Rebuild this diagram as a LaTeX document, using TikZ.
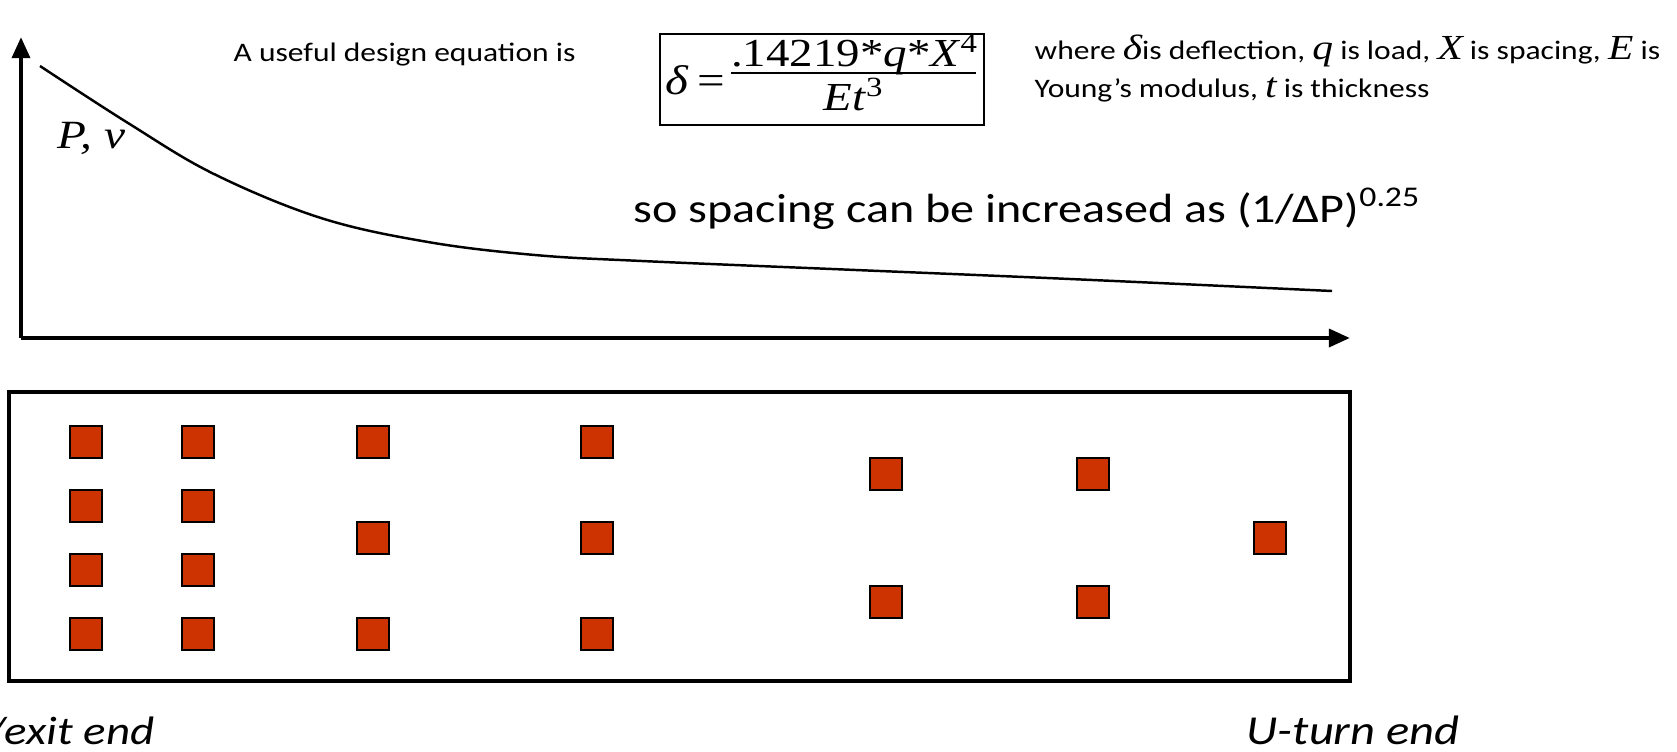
\documentclass[tikz,border=0pt]{standalone}
\usepackage{fontspec}
\setmainfont{Carlito}[FakeStretch=1.18]
\newfontfamily\tms{Liberation Serif}[FakeStretch=1.18]
\usetikzlibrary{arrows.meta}
\definecolor{tubered}{RGB}{204,51,0}
\newcommand{\tmi}[1]{{\tms\itshape\fontsize{10}{12}\selectfont #1}}

\begin{document}
\begin{tikzpicture}[x=0.01cm,y=-0.01cm,
    axis/.style={line width=1.3pt,-{Triangle[length=6pt,width=5pt]}},
    tube/.style={draw,line width=0.6pt,fill=tubered,minimum size=0.32cm,inner sep=0pt},
    note/.style={font=\fontsize{7.6}{9}\selectfont,inner sep=0pt},
    eqtext/.style={font=\tms\fontsize{11.3}{14}\selectfont,inner sep=0pt},
    endlabel/.style={font=\fontsize{11.7}{14}\selectfont\itshape,inner sep=0pt}
]
\useasboundingbox (0,0) rectangle (1677,751);

\coordinate (origin) at (21,338);
\coordinate (ytip) at (21,37);
\coordinate (xtip) at (1350,338);
\draw[axis] (origin)--(ytip);
\draw[axis] (origin)--(xtip);

\draw[line width=0.7pt] plot[smooth,tension=0.6] coordinates {(40,66) (128,123) (214,174) (321,218) (428,242) (535,255) (642,261) (856,270) (1070,279) (1332,291)};

\node[inner sep=0pt,anchor=base west,font=\tms\itshape\fontsize{11.4}{14}\selectfont] (pv) at (57,148) {P, v};

\node[note,anchor=base west] (intro) at (233,61) {A useful design equation is};

\node[draw,line width=0.5pt,minimum width=3.24cm,minimum height=0.91cm] (eqn) at (822,79.5) {};
\node[eqtext,anchor=base west,font=\tms\fontsize{11.8}{14}\selectfont] (eqlhs) at (665,94) {\textit{δ}\hspace{2.5pt}=};
\coordinate (barL) at (731,73);
\coordinate (barR) at (976,73);
\draw[line width=0.6pt] (barL)--(barR);
\node[eqtext,anchor=base] (eqnum) at (855,66) {.14219*\textit{q}*\textit{X}\textsuperscript{4}};
\node[eqtext,anchor=base] (eqden) at (854,110) {\textit{Et}\textsuperscript{3}};

\node[note,anchor=base west] (whereA) at (1034,59) {where \tmi{δ}is deflection, \tmi{q} is load, \tmi{X} is spacing, \tmi{E} is};
\node[note,anchor=base west] (whereB) at (1034,97) {Young’s modulus, \tmi{t} is thickness};

\node[inner sep=0pt,anchor=base west,font=\fontsize{11.6}{14}\selectfont] (spacing) at (633,222) {so spacing can be increased as (1/ΔP)\textsuperscript{0.25}};

\draw[line width=1.4pt] (9,392) rectangle (1350,681);
\foreach \x/\ys [count=\i] in {86/{442,506,570,634},198/{442,506,570,634},373/{442,538,634},597/{442,538,634},886/{474,602},1093/{474,602},1270/{538}}
  \foreach \y [count=\j] in \ys
    \node[tube] (t\i-\j) at (\x,\y) {};

\node[endlabel,anchor=base east,font=\fontsize{11.3}{14}\selectfont\itshape] (exitlbl) at (155,744) {/exit end};
\node[endlabel,anchor=base west] (uturnlbl) at (1246,744) {U-turn end};
\end{tikzpicture}
\end{document}
